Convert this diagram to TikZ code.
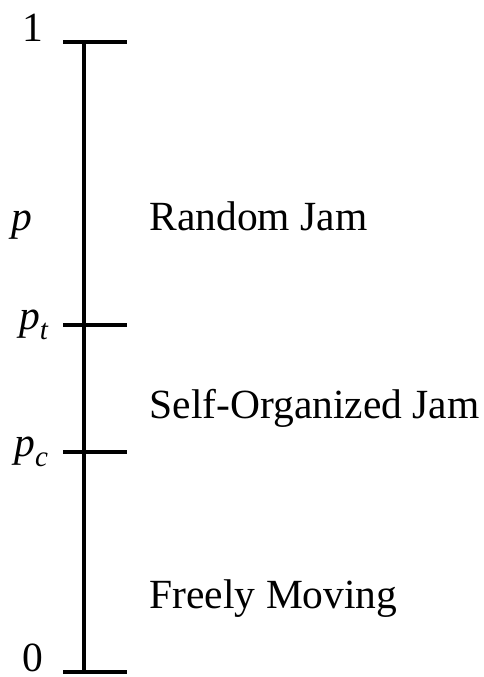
\documentclass[tikz,border=0pt]{standalone}
\usepackage{amsmath}
\usepackage{fontspec}
\setmainfont{Liberation Serif}
\usepackage{tikz}
\tikzset{
  lbl/.style={font=\fontsize{41.5}{48}\selectfont, inner sep=0pt},
  phase/.style={lbl, anchor=base west},
  val/.style={lbl, anchor=base east}
}
\begin{document}
\begin{tikzpicture}[x=1pt,y=-1pt,line width=3.2pt]
                \useasboundingbox (0,0) rectangle (483,677);
                \coordinate (top) at (84,42);
                \coordinate (pt) at (84,325);
                \coordinate (pc) at (84,452);
                \coordinate (bot) at (84,672);
                \draw[-] (top) -- (bot);
                \foreach \c in {top,pt,pc,bot}
                    \draw[-] ([xshift=-21pt]\c) -- ([xshift=43pt]\c);
                \node[lbl, anchor=base] (one) at (33,42) {1};
                \node[lbl, anchor=base] (zero) at (33,671) {0};
                \node[val] (p) at (34,230) {\textit{p}};
                \node[val] (ptl) at (50,329) {$\textit{p}_{\textit{t}}$};
                \node[val] (pcl) at (50,456) {$\textit{p}_{\textit{c}}$};
                \node[phase] (rj) at (148,230) {Random Jam};
                \node[phase] (soj) at (148,418) {Self-Organized Jam};
                \node[phase] (fm) at (148,608) {Freely Moving};
            \end{tikzpicture}
\end{document}
